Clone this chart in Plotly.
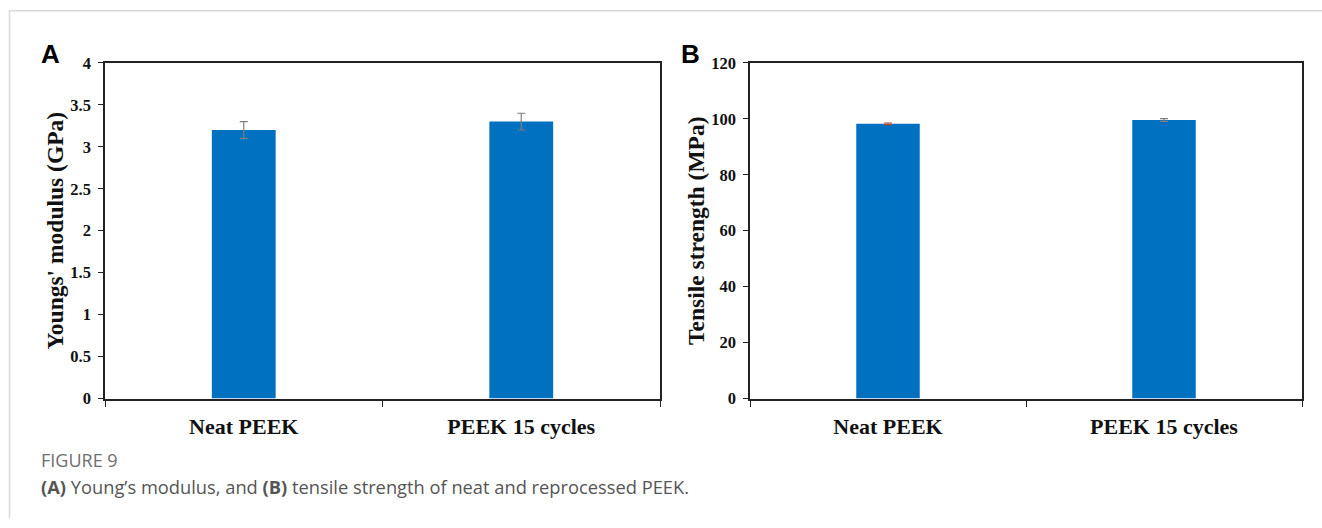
import plotly.graph_objects as go

# Mechanical properties of neat and reprocessed PEEK
categories = ["Neat PEEK", "PEEK 15 cycles"]
youngs_modulus = [3.2, 3.3]          # GPa
youngs_err = [0.1, 0.1]
tensile_strength = [98.2, 99.6]      # MPa
tensile_err = [0.3, 0.5]
youngs_ticks = [0, 0.5, 1, 1.5, 2, 2.5, 3, 3.5, 4]
youngs_tick_text = ["0", "0.5", "1", "1.5", "2", "2.5", "3", "3.5", "4"]
tensile_ticks = [0, 20, 40, 60, 80, 100, 120]

W, H = 1322, 528
BAR = "#0070C0"
SERIF = "Liberation Serif"
# page offset/scale of the rendered page
PAGE_OFF, PAGE_SCALE = 8.0, 0.9706

def px(x):
    return x / W

def py(y):
    fig_y = y / PAGE_SCALE - PAGE_OFF
    return 1 - fig_y / H

fig = go.Figure()

# Panel A: Young's modulus
fig.add_trace(go.Bar(
    x=categories, y=youngs_modulus, width=0.23,
    marker=dict(color=BAR, line=dict(width=0)),
    error_y=dict(type="data", array=youngs_err, color="#7f7f7f", thickness=1.2, width=4),
    xaxis="x", yaxis="y", showlegend=False,
))

# Panel B: tensile strength (one trace per bar so each error bar keeps its colour)
err_colors = ["#b5472b", "#7f7f7f"]
for cat, val, err, col in zip(categories, tensile_strength, tensile_err, err_colors):
    fig.add_trace(go.Bar(
        x=[cat], y=[val], width=0.23,
        marker=dict(color=BAR, line=dict(width=0)),
        error_y=dict(type="data", array=[err], color=col, thickness=1.2, width=4),
        xaxis="x2", yaxis="y2", showlegend=False,
    ))

tickfont = dict(family=SERIF, size=16.5, color="#111", weight="bold")
catfont = dict(family=SERIF, size=22, color="#111", weight="bold")
titlefont = dict(family=SERIF, size=23.5, color="#111", weight="bold")

xaxis_common = dict(
    type="category", tickson="boundaries", ticks="outside", ticklen=7,
    tickcolor="#222", tickwidth=1, showline=True, linecolor="#222", linewidth=1.5,
    mirror=True, showgrid=False, tickfont=catfont, range=[-0.5, 1.5],
    ticklabelstandoff=7,
)
yaxis_common = dict(
    ticks="outside", ticklen=5, tickcolor="#222", tickwidth=1,
    showline=True, linecolor="#222", linewidth=1.5, mirror=True,
    showgrid=False, zeroline=False, tickfont=tickfont, ticklabelstandoff=4,
)

fig.update_layout(
    width=W, height=H, margin=dict(l=0, r=0, t=0, b=0),
    paper_bgcolor="white", plot_bgcolor="white", barmode="overlay",
    xaxis=dict(domain=[px(105), px(660)], anchor="y", **xaxis_common),
    yaxis=dict(domain=[py(400), py(62)], anchor="x", range=[0, 4],
               tickvals=youngs_ticks, ticktext=youngs_tick_text,
               title=dict(text="Youngs' modulus (GPa)", font=titlefont, standoff=0),
               **yaxis_common),
    xaxis2=dict(domain=[px(750), px(1302)], anchor="y2", **xaxis_common),
    yaxis2=dict(domain=[py(400), py(62)], anchor="x2", range=[0, 120],
                tickvals=tensile_ticks,
                title=dict(text="Tensile strength (MPa)", font=titlefont, standoff=0),
                **yaxis_common),
)

# Card frame around the figure
fig.add_shape(type="path", xref="paper", yref="paper",
              path=f"M {px(9.5)} 0 L {px(9.5)} {py(9.5)} L 1 {py(9.5)}",
              line=dict(color="#d9d9d9", width=1.5))

# Panel letters
for letter, x in [("A", 39), ("B", 679)]:
    fig.add_annotation(text=letter, xref="paper", yref="paper", x=px(x), y=py(36),
                       xanchor="left", yanchor="top", showarrow=False,
                       font=dict(family="Liberation Sans", size=26, color="#000", weight="bold"))

# Caption
fig.add_annotation(text="FIGURE 9", xref="paper", yref="paper", x=px(39), y=py(462),
                   xanchor="left", yanchor="middle", showarrow=False,
                   font=dict(family="Open Sans", size=18, color="#6e6e6e"))
fig.add_annotation(
    text="<b>(A)</b> Young’s modulus, and <b>(B)</b> tensile strength of neat and reprocessed PEEK.",
    xref="paper", yref="paper", x=px(39), y=py(489), xanchor="left", yanchor="middle",
    showarrow=False, font=dict(family="Open Sans", size=18.3, color="#555"))

fig.write_html("out.html")
